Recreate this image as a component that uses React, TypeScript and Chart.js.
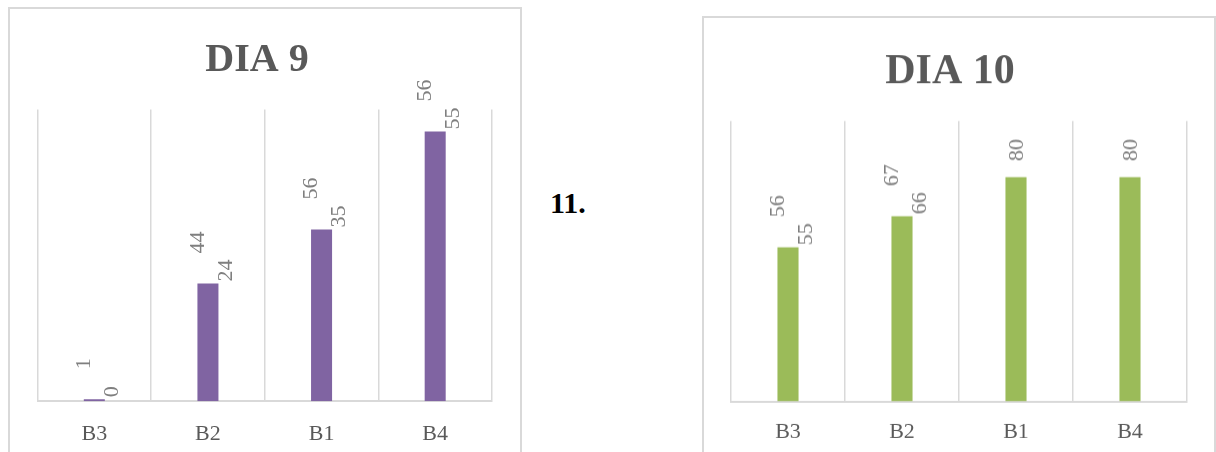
import React, { useEffect, useRef } from "react";
import { Chart, registerables } from "chart.js";

Chart.register(...registerables);

// ---------- data ----------
const categories = ["B3", "B2", "B1", "B4"];

const dia9Title = "DIA 9";
const dia9Values = [0, 24, 35, 55];
const dia9ExtraLabels: (string | null)[] = ["1", "44", "56", "56"];

const dia10Title = "DIA 10";
const dia10Values = [55, 66, 80, 80];
const dia10ExtraLabels: (string | null)[] = ["56", "67", null, null];

const sideNote = "11.";

// ---------- styling ----------
const SERIF = "'Liberation Serif', 'Times New Roman', serif";
const GRID = "#d9d9d9";
const TEXT = "#595959";
const LABEL = "#7f7f7f";

function makeRotatedLabels(values: number[], extra: (string | null)[]) {
  return {
    id: "rotatedLabels",
    afterDatasetsDraw(chart: any) {
      const meta = chart.getDatasetMeta(0);
      const ctx = chart.ctx;
      ctx.save();
      ctx.font = `22px ${SERIF}`;
      ctx.fillStyle = LABEL;
      ctx.textAlign = "left";
      ctx.textBaseline = "middle";
      const draw = (text: string, x: number, y: number) => {
        ctx.save();
        ctx.translate(x, y);
        ctx.rotate(-Math.PI / 2);
        ctx.fillText(text, 0, 0);
        ctx.restore();
      };
      meta.data.forEach((bar: any, i: number) => {
        const top = Math.min(bar.y, bar.base);
        const main = String(values[i]);
        const other = extra[i];
        if (other != null) {
          draw(main, bar.x + 18, top - 2);
          draw(other, bar.x - 10, top - 30);
        } else {
          draw(main, bar.x + 1, top - 16);
        }
      });
      ctx.restore();
    },
  };
}

type DayProps = {
  title: string;
  values: number[];
  extra: (string | null)[];
  color: string;
  max: number;
  left: number;
  width: number;
  height: number;
  padLeft: number;
  padRight: number;
  padBottom: number;
  yWidth: number;
  titleSize: number;
  titleTop: number;
  titleBottom: number;
  tickPad: number;
};

function DayChart(p: DayProps) {
  const ref = useRef<HTMLCanvasElement | null>(null);
  useEffect(() => {
    if (!ref.current) return;
    const chart = new Chart(ref.current, {
      type: "bar",
      data: {
        labels: categories,
        datasets: [
          {
            data: p.values,
            backgroundColor: p.color,
            barPercentage: 0.185,
            categoryPercentage: 1,
            minBarLength: 2,
          },
        ],
      },
      options: {
        responsive: false,
        animation: false,
        layout: { padding: { left: p.padLeft, right: p.padRight, top: 0, bottom: p.padBottom } },
        plugins: {
          legend: { display: false },
          tooltip: { enabled: false },
          title: {
            display: true,
            text: p.title,
            color: TEXT,
            font: { family: SERIF, size: p.titleSize, weight: "bold", lineHeight: 1.2 },
            padding: { top: p.titleTop, bottom: p.titleBottom },
          },
        },
        scales: {
          x: {
            grid: { display: true, color: GRID, lineWidth: 1.5, drawTicks: false, offset: true },
            border: { display: true, color: GRID, width: 2 },
            ticks: { color: TEXT, font: { family: SERIF, size: 22, lineHeight: 1.2 }, padding: p.tickPad },
          },
          y: {
            display: true,
            min: 0,
            max: p.max,
            grid: { display: false, drawTicks: false },
            border: { display: false },
            ticks: { display: false },
            afterFit: (s: any) => {
              s.width = p.yWidth;
            },
          },
        },
      },
      plugins: [makeRotatedLabels(p.values, p.extra)],
    } as any);
    return () => chart.destroy();
  }, []);
  return (
    <canvas
      ref={ref}
      width={p.width}
      height={p.height}
      style={{ position: "absolute", left: p.left, top: 0, width: p.width, height: p.height, display: "block" }}
    />
  );
}

export default function App() {
  return (
    <div
      style={{
        position: "absolute",
        left: 0,
        top: 0,
        width: 1216,
        height: 452,
        overflow: "hidden",
        background: "#ffffff",
      }}
    >
      <div
        style={{
          position: "absolute",
          left: 8,
          top: 7,
          width: 514,
          height: 470,
          boxSizing: "border-box",
          border: `2px solid ${GRID}`,
        }}
      />
      <div
        style={{
          position: "absolute",
          left: 702,
          top: 16,
          width: 514,
          height: 470,
          boxSizing: "border-box",
          border: `2px solid ${GRID}`,
        }}
      />
      <DayChart
        title={dia9Title}
        values={dia9Values}
        extra={dia9ExtraLabels}
        color="#8064a2"
        max={59.5}
        left={0}
        width={530}
        height={475}
        padLeft={22}
        padRight={38}
        padBottom={7}
        yWidth={15.5}
        titleSize={40}
        titleTop={36.5}
        titleBottom={25}
        tickPad={20.2}
      />
      <DayChart
        title={dia10Title}
        values={dia10Values}
        extra={dia10ExtraLabels}
        color="#9bbb59"
        max={100}
        left={690}
        width={526}
        height={472.5}
        padLeft={23}
        padRight={29}
        padBottom={10}
        yWidth={18}
        titleSize={42}
        titleTop={47}
        titleBottom={23.3}
        tickPad={17.5}
      />
      <div
        style={{
          position: "absolute",
          left: 550,
          top: 187.6,
          fontFamily: SERIF,
          fontWeight: "bold",
          fontSize: 30,
          lineHeight: "30px",
          color: "#000000",
          whiteSpace: "nowrap",
        }}
      >
        {sideNote}
      </div>
    </div>
  );
}
